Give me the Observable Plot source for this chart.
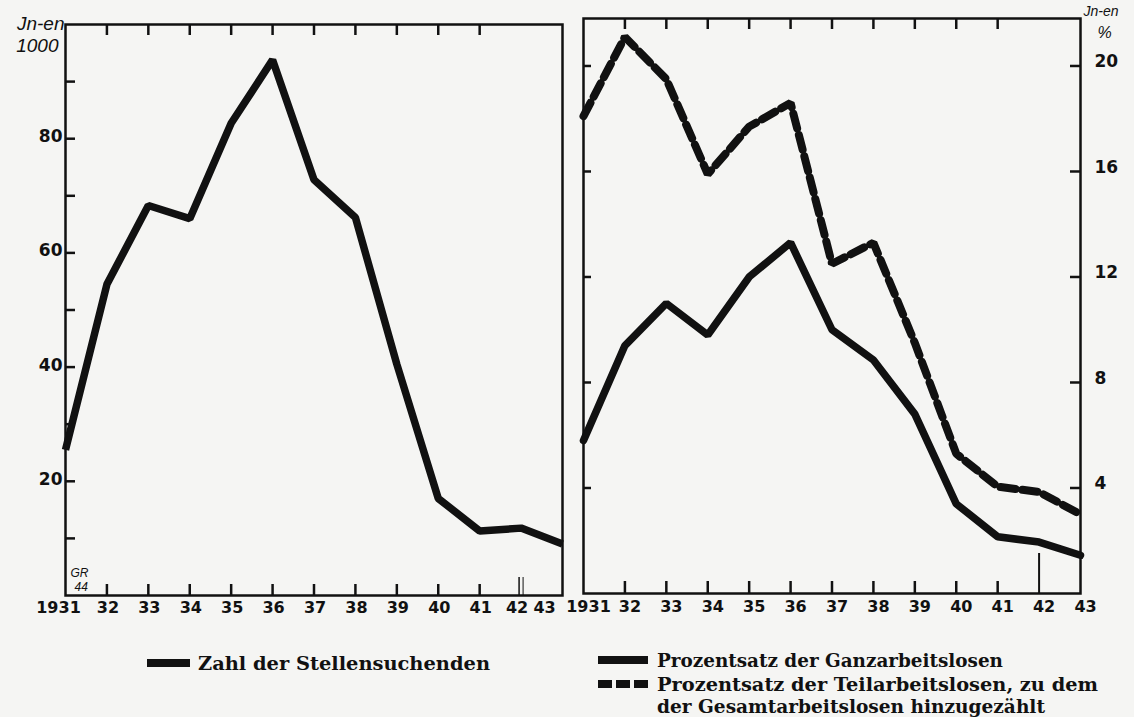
<!DOCTYPE html>
<html><head><meta charset="utf-8">
<script src="https://cdn.jsdelivr.net/npm/d3@7"></script>
<script src="https://cdn.jsdelivr.net/npm/@observablehq/plot@0.6"></script>
<style>
body{margin:0;background:#f5f5f3;}
#chart{position:relative;width:1134px;height:717px;overflow:hidden;background:#f5f5f3;}
#chart svg{position:absolute;overflow:visible;}
</style></head><body><div id="chart"></div>
<script>
// ---- data ----
const years = [1931,1932,1933,1934,1935,1936,1937,1938,1939,1940,1941,1942,1943];
// Zahl der Stellensuchenden (in 1000)
const stellensuchende = [25.5,54.5,68.3,66.0,82.7,93.8,72.8,66.2,40.5,17.0,11.3,11.8,9.0];
// Prozentsatz der Ganzarbeitslosen
const ganzarbeitslose = [5.8,9.4,11.0,9.8,12.0,13.3,10.0,8.85,6.8,3.4,2.15,1.95,1.45];
// Prozentsatz der Teilarbeitslosen + Gesamtarbeitslose
const teilarbeitslose = [18.1,21.1,19.5,15.9,17.7,18.6,12.5,13.3,9.5,5.3,4.05,3.85,3.0];

const leftTickValues = [10,20,30,40,50,60,70,80,90];
const leftTickLabels = [20,40,60,80];
const rightTickValues = [4,8,12,16,20];
const frameTickYears = [1932,1933,1934,1935,1936,1937,1938,1939,1940,1941];
const yearLabel = y => y === 1931 ? "1931" : String(y).slice(2);

const leftUnit = ["Jn-en", "1000"];
const rightUnit = ["Jn-en", "%"];
const signature = ["GR", "44"];

const legendLeft = "Zahl der Stellensuchenden";
const legendRight = ["Prozentsatz der Ganzarbeitslosen",
  "Prozentsatz der Teilarbeitslosen, zu dem",
  "der Gesamtarbeitslosen hinzugezählt"];

const ink = "#111";
const chart = document.getElementById("chart");

// ---- left panel ----
const H = 640;
const L = {w: 575, ml: 65, mr: 13, mt: 24, mb: 45};
const LiW = L.w - L.ml - L.mr, LiH = H - L.mt - L.mb;
const leftData = years.map((y, i) => ({year: y, value: stellensuchende[i]}));
const unitStyle = {fontFamily: "Liberation Sans", fontStyle: "italic", fontWeight: "normal"};

const left = Plot.plot({
  width: L.w, height: H,
  marginLeft: L.ml, marginRight: L.mr, marginTop: L.mt, marginBottom: L.mb,
  style: {background: "transparent", fontFamily: "DejaVu Sans", fontSize: "16px", fontWeight: "bold", color: ink, overflow: "visible"},
  x: {domain: [1931, 1943]},
  y: {domain: [0, 100]},
  marks: [
    Plot.frame({stroke: ink, strokeWidth: 2.5}),
    Plot.ruleY(leftTickValues, {y: d => d, insetRight: LiW - 10, stroke: ink, strokeWidth: 2.5}),
    Plot.ruleX(frameTickYears, {x: d => d, insetTop: LiH - 11, stroke: ink, strokeWidth: 2.5}),
    Plot.ruleX(frameTickYears, {x: d => d, insetBottom: LiH - 11, stroke: ink, strokeWidth: 2.5}),
    Plot.ruleX([1942], {x: d => d, insetTop: LiH - 18, dx: -2, stroke: ink, strokeWidth: 1.5}),
    Plot.ruleX([1942], {x: d => d, insetTop: LiH - 18, dx: 2, stroke: ink, strokeWidth: 1}),
    Plot.axisY({ticks: leftTickLabels, tickSize: 0, tickPadding: 3, label: null, fontSize: 17, dy: -2}),
    Plot.axisX({ticks: [1931], tickSize: 0, tickPadding: 6, label: null, tickFormat: yearLabel, dx: -7}),
    Plot.axisX({ticks: years.slice(1, 11), tickSize: 0, tickPadding: 6, label: null, tickFormat: yearLabel, dx: 1}),
    Plot.axisX({ticks: [1942], tickSize: 0, tickPadding: 6, label: null, tickFormat: yearLabel, dx: -4}),
    Plot.axisX({ticks: [1943], tickSize: 0, tickPadding: 6, label: null, tickFormat: yearLabel, dx: -18}),
    Plot.line(leftData, {x: "year", y: "value", stroke: ink, strokeWidth: 7.5, strokeLinejoin: "miter", strokeLinecap: "butt"}),
    Plot.text([leftUnit[0]], {frameAnchor: "top-left", textAnchor: "end", lineAnchor: "middle", dx: -1, dy: -1, fontSize: 19, ...unitStyle}),
    Plot.text([leftUnit[1]], {frameAnchor: "top-left", textAnchor: "end", lineAnchor: "middle", dx: -7, dy: 21, fontSize: 19, ...unitStyle}),
    Plot.text([signature[0]], {frameAnchor: "bottom-left", textAnchor: "start", lineAnchor: "middle", dx: 5, dy: -22, fontSize: 12, ...unitStyle}),
    Plot.text([signature[1]], {frameAnchor: "bottom-left", textAnchor: "start", lineAnchor: "middle", dx: 9, dy: -8, fontSize: 12, ...unitStyle})
  ]
});
left.style.left = "0px"; left.style.top = "0px";
chart.appendChild(left);

// ---- right panel ----
const R = {x: 520, w: 614, ml: 63, mr: 54, mt: 18, mb: 47};
const RiW = R.w - R.ml - R.mr, RiH = H - R.mt - R.mb;
const rightData = years.flatMap((y, i) => [
  {year: y, value: ganzarbeitslose[i], series: "ganz"},
  {year: y, value: teilarbeitslose[i], series: "teil"}
]);

const right = Plot.plot({
  width: R.w, height: H,
  marginLeft: R.ml, marginRight: R.mr, marginTop: R.mt, marginBottom: R.mb,
  style: {background: "transparent", fontFamily: "DejaVu Sans", fontSize: "16px", fontWeight: "bold", color: ink, overflow: "visible"},
  x: {domain: [1931, 1943]},
  y: {domain: [0, 21.8]},
  marks: [
    Plot.frame({stroke: ink, strokeWidth: 2.5}),
    Plot.ruleY(rightTickValues, {y: d => d, insetRight: RiW - 8, stroke: ink, strokeWidth: 2.5}),
    Plot.ruleY(rightTickValues, {y: d => d, insetLeft: RiW - 10, stroke: ink, strokeWidth: 2.5}),
    Plot.ruleX(frameTickYears, {x: d => d, insetTop: RiH - 12, stroke: ink, strokeWidth: 2.5}),
    Plot.ruleX(frameTickYears, {x: d => d, insetBottom: RiH - 11, stroke: ink, strokeWidth: 2.5}),
    Plot.ruleX([1942], {x: d => d, insetTop: RiH - 40, stroke: ink, strokeWidth: 2}),
    Plot.axisY({anchor: "right", ticks: rightTickValues, tickSize: 0, tickPadding: 14, label: null, fontSize: 17, dy: -4}),
    Plot.axisX({ticks: years, tickSize: 0, tickPadding: 7, label: null, tickFormat: yearLabel, dx: 5}),
    Plot.line(rightData.filter(d => d.series === "ganz"), {x: "year", y: "value", stroke: ink, strokeWidth: 7.5, strokeLinejoin: "miter"}),
    Plot.line(rightData.filter(d => d.series === "teil"), {x: "year", y: "value", stroke: ink, strokeWidth: 8, strokeDasharray: "15,7", strokeLinejoin: "miter"}),
    Plot.text([rightUnit[0]], {frameAnchor: "top-right", textAnchor: "start", lineAnchor: "middle", dx: 3, dy: -7, fontSize: 14, ...unitStyle}),
    Plot.text([rightUnit[1]], {frameAnchor: "top-right", textAnchor: "middle", lineAnchor: "middle", dx: 24, dy: 14, fontSize: 16, ...unitStyle})
  ]
});
right.style.left = R.x + "px"; right.style.top = "0px";
chart.appendChild(right);

// ---- legend (below the plots) ----
const leg = d3.create("svg").attr("width", 1134).attr("height", 77)
  .style("left", "0px").style("top", "640px");
const tfont = {family: "DejaVu Serif", weight: "bold", size: 19};
function legText(x, y, s, len) {
  leg.append("text").attr("x", x).attr("y", y).attr("dominant-baseline", "central")
    .attr("font-family", tfont.family).attr("font-weight", tfont.weight).attr("font-size", tfont.size)
    .attr("fill", ink).attr("textLength", len).attr("lengthAdjust", "spacingAndGlyphs").text(s);
}
leg.append("line").attr("x1", 147).attr("x2", 190).attr("y1", 23).attr("y2", 23).attr("stroke", ink).attr("stroke-width", 8);
legText(198, 23, legendLeft, 292);
leg.append("line").attr("x1", 598).attr("x2", 648).attr("y1", 20).attr("y2", 20).attr("stroke", ink).attr("stroke-width", 8);
legText(657, 20, legendRight[0], 346);
leg.append("line").attr("x1", 598).attr("x2", 648).attr("y1", 44).attr("y2", 44).attr("stroke", ink).attr("stroke-width", 8).attr("stroke-dasharray", "14,4");
legText(657, 44, legendRight[1], 441);
legText(657, 66, legendRight[2], 388);
chart.appendChild(leg.node());
</script></body></html>
